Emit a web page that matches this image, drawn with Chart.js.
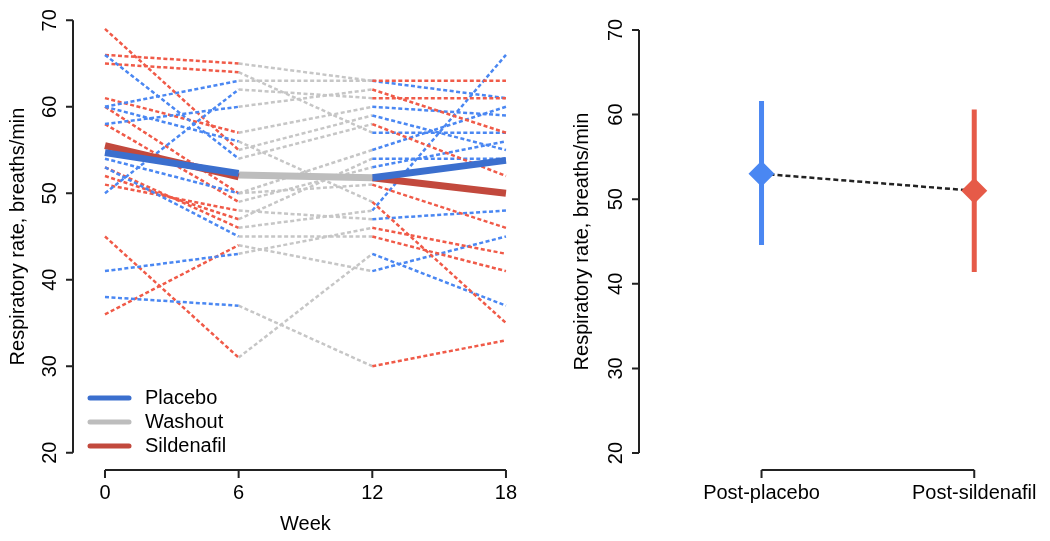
<!DOCTYPE html>
<html>
<head>
<meta charset="utf-8">
<script src="https://cdn.jsdelivr.net/npm/chart.js@4.4.1/dist/chart.umd.min.js"></script>
<style>
  html, body { margin: 0; padding: 0; background: #fff; }
  #wrap { position: relative; width: 1050px; height: 541px; }
  #left { position: absolute; left: 0; top: 0; }
  #right { position: absolute; left: 540px; top: 0; }
</style>
</head>
<body>
<div id="wrap">
  <canvas id="left" width="540" height="541"></canvas>
  <canvas id="right" width="510" height="541"></canvas>
</div>
<script>
// ---- data ----
const weeks = [0, 6, 12, 18];
const yTicks = [20, 30, 40, 50, 60, 70];

// placebo first: blue 0-6, washout 6-12, sildenafil 12-18
const placeboFirst = [
  [66, 54, 58, 52],
  [60, 63, 63, 63],
  [50, 62, 61, 61],
  [58, 60, 62, 57],
  [60, 56, 49, 35],
  [54, 50, 51, 46],
  [53, 45, 45, 41],
  [41, 43, 46, 43],
  [38, 37, 30, 33]
];
// sildenafil first: red 0-6, washout 6-12, placebo 12-18
const sildenafilFirst = [
  [69, 55, 59, 55],
  [66, 65, 63, 61],
  [65, 64, 57, 57],
  [61, 57, 60, 59],
  [60, 50, 55, 60],
  [58, 49, 53, 56],
  [53, 46, 48, 66],
  [52, 47, 54, 54],
  [51, 48, 47, 48],
  [45, 31, 43, 37],
  [36, 44, 41, 45]
];

// group means (thick lines)
const placeboMeanP1 = [54.7, 52.3];   // weeks 0, 6
const sildenafilMeanP1 = [55.5, 51.9];
const washoutMean = [52.1, 51.8];     // weeks 6, 12
const placeboMeanP2 = [51.8, 53.8];   // weeks 12, 18
const sildenafilMeanP2 = [51.8, 50.0];

// right panel
const groupLabels = ['Post-placebo', 'Post-sildenafil'];
const groupMeans = [53.0, 51.0];
const groupLow = [44.6, 41.4];
const groupHigh = [61.6, 60.6];

const legendLabels = ['Placebo', 'Washout', 'Sildenafil'];

// ---- colours ----
const BLUE = '#4a87f2', RED = '#f05a48', GREY = '#c6c6c6';
const BLUE_D = '#3b6fce', RED_D = '#c2493d', GREY_D = '#bdbdbd';
const FONT = '20px "Liberation Sans", Arial, sans-serif';

function pts(xs, ys) { return ys.map((v, i) => ({ x: xs[i], y: v })); }

function subjectSet(rows, first, last) {
  const cols = [first, GREY, last];
  return rows.map(r => ({
    data: pts(weeks, r),
    borderWidth: 2.5,
    borderDash: [4, 2.5],
    pointRadius: 0,
    borderColor: first,
    segment: { borderColor: c => cols[c.p0DataIndex] },
    order: 1,
    clip: false
  }));
}

function meanLine(xs, ys, color) {
  return { data: pts(xs, ys), borderColor: color, borderWidth: 7, pointRadius: 0, order: 0, clip: false, borderCapStyle: 'butt' };
}

// R style axes drawn from the chart scales
const rAxis = {
  id: 'rAxis',
  afterDraw(chart, args, o) {
    const { ctx, chartArea } = chart;
    const x = chart.scales.x, y = chart.scales.y;
    const ax = chartArea.left, ay = chartArea.bottom;
    ctx.save();
    ctx.strokeStyle = '#222';
    ctx.lineWidth = 2;
    ctx.beginPath();
    ctx.moveTo(ax, y.getPixelForValue(yTicks[yTicks.length - 1]));
    ctx.lineTo(ax, y.getPixelForValue(yTicks[0]));
    yTicks.forEach(v => { const p = y.getPixelForValue(v); ctx.moveTo(ax, p); ctx.lineTo(ax - 7, p); });
    ctx.moveTo(x.getPixelForValue(o.xTicks[0]), ay);
    ctx.lineTo(x.getPixelForValue(o.xTicks[o.xTicks.length - 1]), ay);
    o.xTicks.forEach(v => { const p = x.getPixelForValue(v); ctx.moveTo(p, ay); ctx.lineTo(p, ay + 8); });
    ctx.stroke();

    ctx.fillStyle = '#000';
    ctx.font = FONT;
    ctx.textAlign = 'center';
    ctx.textBaseline = 'middle';
    yTicks.forEach(v => {
      ctx.save();
      ctx.translate(ax - 23, y.getPixelForValue(v));
      ctx.rotate(-Math.PI / 2);
      ctx.fillText(String(v), 0, 0);
      ctx.restore();
    });
    ctx.save();
    ctx.translate(ax - o.titleOffset, (y.getPixelForValue(yTicks[0]) + y.getPixelForValue(yTicks[yTicks.length - 1])) / 2);
    ctx.rotate(-Math.PI / 2);
    ctx.fillText('Respiratory rate, breaths/min', 0, 0);
    ctx.restore();
    o.xTicks.forEach((v, i) => ctx.fillText(o.xLabels[i], x.getPixelForValue(v), ay + 23));
    if (o.xTitle) {
      ctx.fillText(o.xTitle, (x.getPixelForValue(o.xTicks[0]) + x.getPixelForValue(o.xTicks[o.xTicks.length - 1])) / 2, ay + 54);
    }

    if (o.legend) {
      const cols = [BLUE_D, GREY_D, RED_D];
      ctx.textAlign = 'left';
      ctx.lineCap = 'round';
      ctx.lineWidth = 5;
      legendLabels.forEach((t, i) => {
        const ly = 398 + i * 24;
        ctx.strokeStyle = cols[i];
        ctx.beginPath(); ctx.moveTo(90, ly); ctx.lineTo(129, ly); ctx.stroke();
        ctx.fillText(t, 145, ly);
      });
    }
    ctx.restore();
  }
};

const baseOpts = {
  responsive: false,
  animation: false,
  devicePixelRatio: 1,
  plugins: { legend: { display: false }, tooltip: { enabled: false } },
  elements: { line: { tension: 0 } }
};

new Chart(document.getElementById('left'), {
  type: 'line',
  data: {
    datasets: [
      ...subjectSet(placeboFirst, BLUE, RED),
      ...subjectSet(sildenafilFirst, RED, BLUE),
      meanLine([0, 6], placeboMeanP1, BLUE_D),
      meanLine([0, 6], sildenafilMeanP1, RED_D),
      meanLine([6, 12], washoutMean, GREY_D),
      meanLine([12, 18], placeboMeanP2, BLUE_D),
      meanLine([12, 18], sildenafilMeanP2, RED_D)
    ]
  },
  options: {
    ...baseOpts,
    layout: { padding: { left: 73, right: 18, top: 3, bottom: 71 } },
    scales: {
      x: { type: 'linear', display: false, min: -1.436, max: 18.72 },
      y: { type: 'linear', display: false, min: 18, max: 72 }
    },
    plugins: {
      ...baseOpts.plugins,
      rAxis: { xTicks: weeks, xLabels: weeks.map(String), xTitle: 'Week', titleOffset: 55, legend: true }
    }
  },
  plugins: [rAxis]
});

new Chart(document.getElementById('right'), {
  type: 'line',
  data: {
    datasets: [
      {
        data: pts([1, 2], groupMeans),
        borderColor: '#222', borderWidth: 2.5, borderDash: [5, 3],
        pointStyle: 'rectRot', pointRadius: 13,
        pointBackgroundColor: [BLUE, '#e65a48'], pointBorderWidth: 0,
        order: 0, clip: false
      },
      { data: [{ x: 1, y: groupLow[0] }, { x: 1, y: groupHigh[0] }], borderColor: BLUE, borderWidth: 5, pointRadius: 0, order: 1, clip: false },
      { data: [{ x: 2, y: groupLow[1] }, { x: 2, y: groupHigh[1] }], borderColor: '#e65a48', borderWidth: 5, pointRadius: 0, order: 1, clip: false }
    ]
  },
  options: {
    ...baseOpts,
    layout: { padding: { left: 99, right: 5, top: 3, bottom: 71 } },
    scales: {
      x: { type: 'linear', display: false, min: 0.424, max: 2.295 },
      y: { type: 'linear', display: false, min: 18, max: 72 }
    },
    plugins: {
      ...baseOpts.plugins,
      rAxis: { xTicks: [1, 2], xLabels: groupLabels, titleOffset: 57, legend: false }
    }
  },
  plugins: [rAxis]
});
</script>
</body>
</html>
